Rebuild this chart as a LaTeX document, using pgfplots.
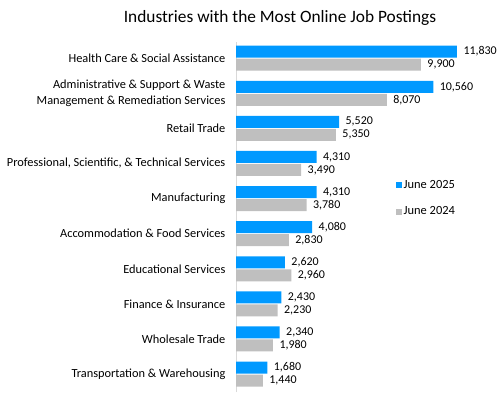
\documentclass[border=0pt]{standalone}
\usepackage{pgfplots}
\pgfplotsset{compat=1.18}
\usepackage{fontspec}
\setmainfont{Carlito}
\definecolor{blueb}{RGB}{0,153,255}
\definecolor{grayb}{RGB}{191,191,191}
\definecolor{axisgray}{RGB}{217,217,217}
\begin{document}
\begin{tikzpicture}[x=1bp,y=1bp]
\path[use as bounding box] (0,0) rectangle (504,393);
\node[font=\fontsize{17.4}{20}\selectfont] at (280,375) {Industries with the Most Online Job Postings};
\begin{axis}[
  at={(236bp,1bp)}, anchor=south west, scale only axis,
  width=233.5bp, height=350bp,
  xmin=0, xmax=12500, ymin=-0.51, ymax=9.46,
  xbar, bar width=12bp,
  axis x line=none, axis y line=left,
  y axis line style={draw=axisgray, line width=1pt, -},
  ytick={0,1,2,3,4,5,6,7,8,9},
  yticklabels={
    {Transportation \& Warehousing},
    {Wholesale Trade},
    {Finance \& Insurance},
    {Educational Services},
    {Accommodation \& Food Services},
    {Manufacturing},
    {Professional, Scientific, \& Technical Services},
    {Retail Trade},
    {Administrative \& Support \& Waste\\Management \& Remediation Services},
    {Health Care \& Social Assistance}},
  yticklabel style={align=right, font=\fontsize{12.4}{16}\selectfont, xshift=-5bp},
  ytick style={draw=none},
  xtick=\empty,
  clip=false,
  nodes near coords,
  every node near coord/.append style={font=\fontsize{12}{13}\selectfont, text=black, xshift=3bp},
  /pgf/number format/.cd, fixed, 1000 sep={,}, assume math mode=true, /pgfplots/.cd,
  legend style={at={(0.67,0.617)}, anchor=north west, draw=none, fill=none,
    font=\fontsize{12.5}{14}\selectfont, row sep=13bp},
  legend cell align=left,
  legend image code/.code={\fill[#1] (0bp,-3bp) rectangle (6bp,3bp);},
]
\addplot[fill=blueb, draw=none, bar shift=6.5bp] coordinates {
  (1680,0) (2340,1) (2430,2) (2620,3) (4080,4) (4310,5) (4310,6) (5520,7) (10560,8) (11830,9)};
\addlegendentry{June 2025}
\addplot[fill=grayb, draw=none, bar shift=-6.5bp] coordinates {
  (1440,0) (1980,1) (2230,2) (2960,3) (2830,4) (3780,5) (3490,6) (5350,7) (8070,8) (9900,9)};
\addlegendentry{June 2024}
\end{axis}
\end{tikzpicture}
\end{document}
